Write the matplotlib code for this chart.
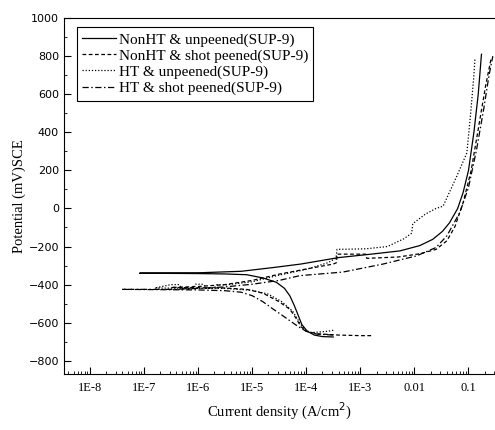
import numpy as np
import matplotlib.pyplot as plt
from matplotlib.ticker import LogLocator, FixedLocator, MultipleLocator, NullFormatter

# log10 of current density (A/cm2) and potential (mV)
# each curve: cathodic branch listed from the low end up to Ecorr, then anodic branch
nonht_up_logi = [-3.5, -3.7, -3.85, -3.98, -4.08, -4.15, -4.22, -4.30, -4.40, -4.55, -4.8, -5.1, -5.5, -6.0, -7.08,
                 -6.0, -5.2, -4.6, -4.1, -3.4, -2.8, -2.27, -1.9, -1.66, -1.48, -1.35, -1.2, -1.10, -1.0, -0.9, -0.82, -0.76]
nonht_up_e = [-675, -673, -665, -645, -610, -560, -510, -460, -420, -388, -365, -348, -344, -342, -340,
              -338, -330, -310, -292, -258, -240, -223, -195, -162, -120, -75, 0, 83, 200, 400, 600, 810]

nonht_sp_logi = [-2.8, -3.0, -3.4, -3.8, -4.0, -4.1, -4.18, -4.3, -4.5, -4.8, -5.1, -5.5, -6.5,
                 -6.0, -5.5, -5.0, -4.5, -4.0, -3.5, -3.44, -3.43, -2.9, -2.88, -2.3, -1.9, -1.6, -1.4, -1.25, -1.1, -0.95, -0.8, -0.68, -0.58]
nonht_sp_e = [-668, -668, -665, -658, -645, -620, -580, -530, -490, -445, -425, -418, -415,
              -410, -400, -378, -345, -318, -292, -285, -240, -240, -262, -255, -238, -215, -170, -95, 30, 200, 450, 650, 790]

ht_up_logi = [-3.5, -3.6, -3.9, -4.02, -4.12, -4.25, -4.45, -4.7, -5.0, -5.5, -6.8,
              -6.5, -6.35, -6.3, -6.1, -6.05, -5.9, -5.85, -5.7, -5.65, -5.5, -5.0, -4.5, -4.0, -3.6,
              -3.45, -3.43, -2.9, -2.5, -2.2, -2.05, -2.03, -1.8, -1.6, -1.47, -1.22, -1.03, -0.96, -0.9, -0.88]
ht_up_e = [-640, -645, -652, -640, -600, -540, -490, -450, -430, -420, -418,
           -400, -400, -420, -420, -398, -398, -420, -418, -400, -402, -385, -350, -320, -285,
           -262, -215, -212, -200, -160, -130, -80, -30, 0, 12, 167, 292, 500, 700, 790]

ht_sp_logi = [-3.5, -3.8, -4.0, -4.15, -4.3, -4.45, -4.62, -4.8, -5.0, -5.2, -5.5, -6.0, -7.41,
              -6.5, -6.0, -5.5, -5.0, -4.5, -4.12, -3.32, -2.58, -1.96, -1.6, -1.40, -1.16, -1.0, -0.85, -0.72, -0.62, -0.55]
ht_sp_e = [-665, -660, -645, -620, -590, -560, -527, -490, -458, -440, -432, -428, -425,
           -425, -420, -412, -398, -378, -353, -334, -292, -249, -205, -144, -21, 110, 310, 520, 700, 800]

labels = ['NonHT & unpeened(SUP-9)', 'NonHT & shot peened(SUP-9)',
          'HT & unpeened(SUP-9)', 'HT & shot peened(SUP-9)']
xtick_vals = [1e-8, 1e-7, 1e-6, 1e-5, 1e-4, 1e-3, 1e-2, 1e-1]
xtick_text = ['1E-8', '1E-7', '1E-6', '1E-5', '1E-4', '1E-3', '0.01', '0.1']

serif = 'Liberation Serif'

fig = plt.figure(figsize=(4.95, 4.3), dpi=100)
ax = fig.add_axes([0.129, 0.13, 0.871, 0.828])

curves = [(nonht_up_logi, nonht_up_e, '-'),
          (nonht_sp_logi, nonht_sp_e, (0, (3, 2))),
          (ht_up_logi, ht_up_e, (0, (1, 1.5))),
          (ht_sp_logi, ht_sp_e, (0, (5, 2, 1.2, 2)))]
for (lx, ey, ls), lab in zip(curves, labels):
    ax.plot(10 ** np.array(lx), ey, color='black', lw=0.9, ls=ls, label=lab)

ax.set_xscale('log')
ax.set_xlim(10 ** -8.48, 10 ** -0.51)
ax.set_ylim(-870, 1000)

ax.xaxis.set_major_locator(FixedLocator(xtick_vals))
ax.set_xticklabels(xtick_text, family=serif, fontsize=9)
ax.xaxis.set_minor_locator(LogLocator(base=10, subs=np.arange(2, 10), numticks=20))
ax.xaxis.set_minor_formatter(NullFormatter())
ax.yaxis.set_major_locator(MultipleLocator(200))
ax.yaxis.set_minor_locator(MultipleLocator(100))
for lab in ax.get_yticklabels():
    lab.set_fontsize(8)
ax.tick_params(which='major', direction='in', length=5, width=0.8)
ax.tick_params(which='minor', direction='in', length=2.5, width=0.6)
ax.tick_params(axis='x', pad=6)
ax.spines['right'].set_visible(False)

ax.set_xlabel('Current density (A/cm$^2$)', family=serif, fontsize=10.5, labelpad=5)
ax.set_ylabel('Potential (mV)SCE', family=serif, fontsize=10.5, labelpad=2)

leg = ax.legend(loc='upper left', bbox_to_anchor=(0.012, 0.995), prop={'family': serif, 'size': 11},
                handlelength=2.2, handletextpad=0.2, labelspacing=0.15, borderpad=0.35,
                fancybox=False, framealpha=1)
leg.get_frame().set_edgecolor('black')
leg.get_frame().set_linewidth(0.8)

fig.savefig('out.png', dpi=100)
